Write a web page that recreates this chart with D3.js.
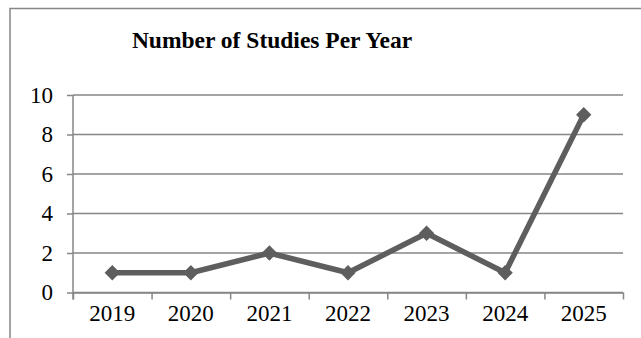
<!DOCTYPE html>
<html>
<head>
<meta charset="utf-8">
<script src="https://cdn.jsdelivr.net/npm/d3@7"></script>
<style>
  body { margin: 0; background: #fff; }
  text { font-family: 'Liberation Serif'; }
</style>
</head>
<body>
<div id="root"></div>
<script>
const years = ['2019', '2020', '2021', '2022', '2023', '2024', '2025']
const studies = [1, 1, 2, 1, 3, 1, 9]
const yTicks = [0, 2, 4, 6, 8, 10]
const title = 'Number of Studies Per Year'

const w = 641
const h = 338
const plot = { left: 73, right: 623, top: 95, bottom: 292.5 }
const gridColor = '#868686'
const lineColor = '#5e5e5e'
const serif = 'Liberation Serif'

const svg = d3.select('#root')
  .append('svg')
  .attr('width', w)
  .attr('height', h)

// chart frame (cut off at right and bottom in the reference)
svg.append('rect')
  .attr('x', 10)
  .attr('y', 8.5)
  .attr('width', 700)
  .attr('height', 400)
  .attr('fill', 'none')
  .attr('stroke', gridColor)
  .attr('stroke-width', 1.5)

svg.append('text')
  .attr('x', 272)
  .attr('y', 47.5)
  .attr('text-anchor', 'middle')
  .attr('font-family', serif)
  .attr('font-size', 23.5)
  .attr('font-weight', 'bold')
  .text(title)

const xScale = d3.scaleBand()
  .domain(years)
  .range([plot.left, plot.right])

const yScale = d3.scaleLinear()
  .domain([0, 10])
  .range([plot.bottom, plot.top])

// y axis ticks + labels
const yAxis = d3.axisLeft(yScale)
  .tickValues(yTicks)
  .tickSize(6)
  .tickPadding(14)

const yg = svg.append('g')
  .attr('transform', 'translate(' + plot.left + ', 0)')
  .call(yAxis)
  .attr('font-family', serif)
  .attr('font-size', 23)
yg.select('.domain').remove()
yg.selectAll('line').attr('stroke', gridColor).attr('stroke-width', 1.5)
yg.selectAll('text').attr('font-family', serif).attr('fill', '#000')

// gridlines
svg.append('g')
  .selectAll('line')
  .data(yTicks)
  .enter()
  .append('line')
    .attr('x1', plot.left)
    .attr('x2', plot.right)
    .attr('y1', d => yScale(d))
    .attr('y2', d => yScale(d))
    .attr('stroke', gridColor)
    .attr('stroke-width', 1.5)

// y axis line, runs past the baseline a little
svg.append('line')
  .attr('x1', plot.left)
  .attr('x2', plot.left)
  .attr('y1', plot.top)
  .attr('y2', plot.bottom + 7)
  .attr('stroke', gridColor)
  .attr('stroke-width', 1.5)

// x axis boundary ticks
const edgeScale = d3.scaleLinear()
  .domain([0, years.length])
  .range([plot.left, plot.right])

const edgeAxis = d3.axisBottom(edgeScale)
  .tickValues(d3.range(0, years.length + 1))
  .tickSize(7)
  .tickSizeOuter(0)
  .tickFormat('')

const eg = svg.append('g')
  .attr('transform', 'translate(0, ' + plot.bottom + ')')
  .call(edgeAxis)
eg.selectAll('line, path').attr('stroke', gridColor).attr('stroke-width', 1.5)

// x labels
const xAxis = d3.axisBottom(xScale)
  .tickSize(0)
  .tickPadding(12)

const xg = svg.append('g')
  .attr('transform', 'translate(0, ' + plot.bottom + ')')
  .call(xAxis)
  .attr('font-family', serif)
  .attr('font-size', 23)
xg.select('.domain').remove()
xg.selectAll('text').attr('font-family', serif).attr('fill', '#000')

const xc = d => xScale(d) + xScale.bandwidth() / 2
const points = years.map((y, i) => [xc(y), yScale(studies[i])])

svg.append('path')
  .datum(points)
  .attr('d', d3.line())
  .attr('fill', 'none')
  .attr('stroke', lineColor)
  .attr('stroke-width', 5.5)
  .attr('stroke-linejoin', 'round')

svg.append('g')
  .selectAll('path')
  .data(points)
  .enter()
  .append('path')
    .attr('transform', d => 'translate(' + d[0] + ',' + d[1] + ')')
    .attr('d', d3.symbol(d3.symbolDiamond2, 150))
    .attr('fill', lineColor)
</script>
</body>
</html>
